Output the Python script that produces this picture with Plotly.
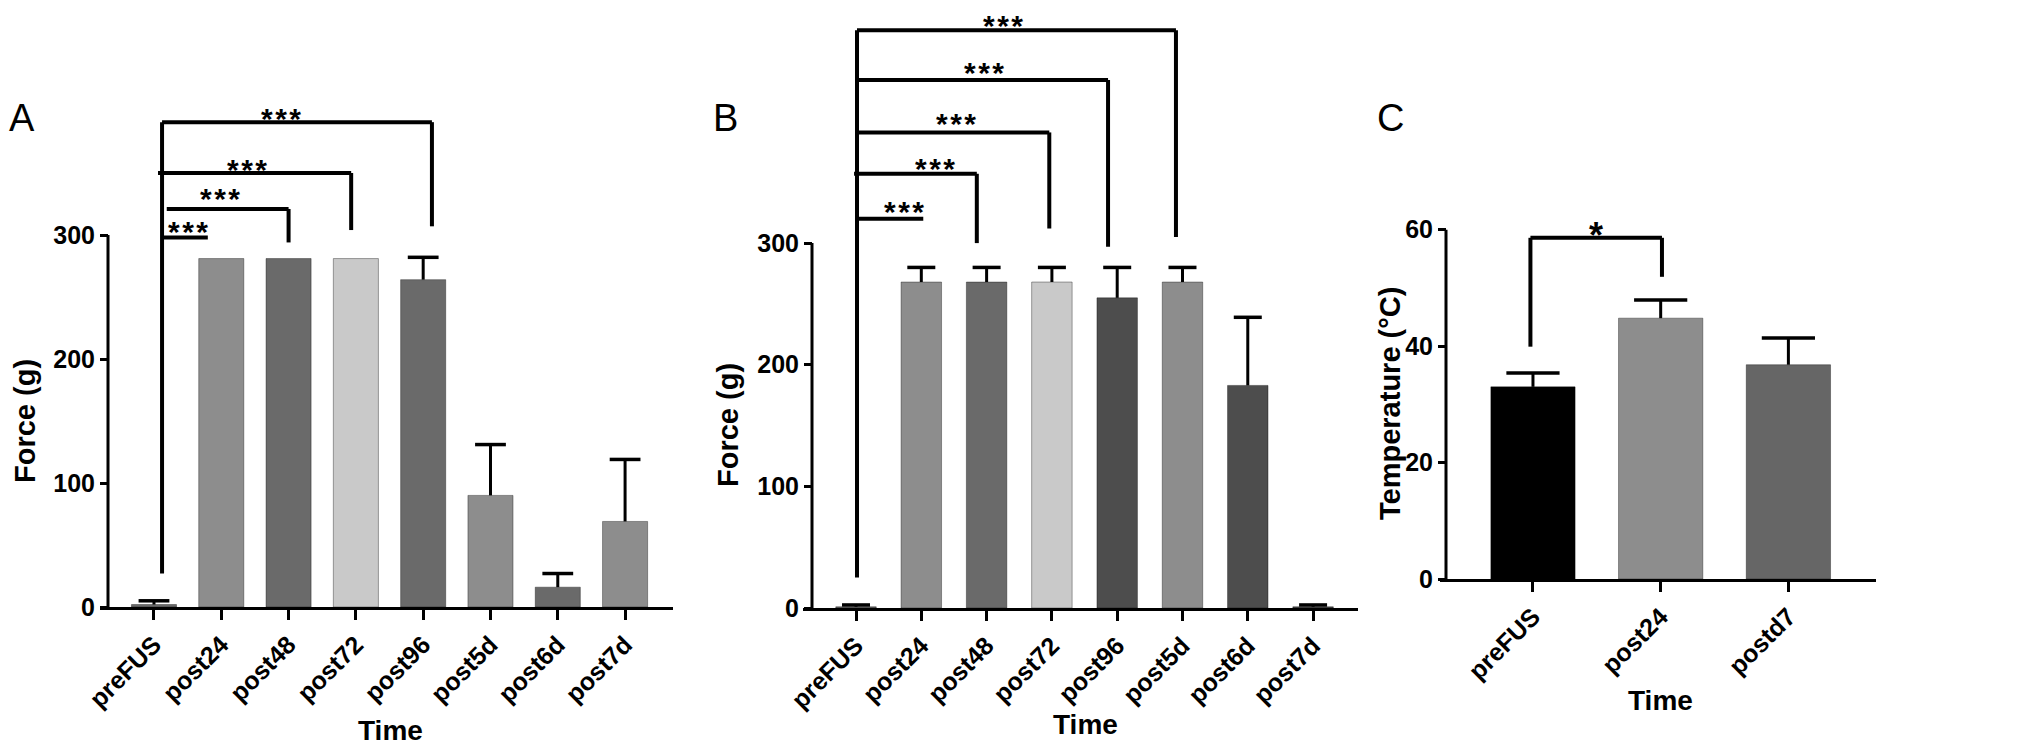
import plotly.graph_objects as go

# the page body keeps its default 8px margin, so the figure is drawn 8px in from the window edge
PAD = 8
FW, FH = 2040 - 2 * PAD, 755 - 2 * PAD

# panel A
a_times = ["preFUS", "post24", "post48", "post72", "post96", "post5d", "post6d", "post7d"]
a_force = [2, 281, 281, 281, 264, 90, 16, 69]
a_err = [3, None, None, None, 18, 41, 11, 50]
a_colors = ["#6a6a6a", "#8d8d8d", "#6a6a6a", "#c9c9c9", "#6a6a6a", "#8d8d8d", "#6a6a6a", "#8d8d8d"]

# panel B
b_times = ["preFUS", "post24", "post48", "post72", "post96", "post5d", "post6d", "post7d"]
b_force = [1, 268, 268, 268, 255, 268, 183, 1]
b_err = [1.5, 12, 12, 12, 25, 12, 56, 1.5]
b_colors = ["#6a6a6a", "#8d8d8d", "#6a6a6a", "#c9c9c9", "#4d4d4d", "#8d8d8d", "#4d4d4d", "#4d4d4d"]

# panel C
c_times = ["preFUS", "post24", "postd7"]
c_temp = [33, 44.8, 36.8]
c_err = [2.4, 3.1, 4.6]
c_colors = ["#000000", "#8d8d8d", "#666666"]

# significance brackets: (x start, x end, height, right drop end, star x, star y)
a_brackets = [
    (0.12, 0.80, 298, None, 0.50, 308),
    (0.19, 2.00, 321, 294, 0.98, 334),
    (0.06, 2.93, 350, 304, 1.38, 358),
    (0.12, 4.13, 391, 307, 1.89, 399),
]
a_stem = (0.12, 27, 391)
b_brackets = [
    (0.015, 1.03, 320, None, 0.74, 331),
    (-0.03, 1.85, 357, 300, 1.21, 366),
    (0.015, 2.96, 391, 312, 1.53, 403),
    (0.015, 3.86, 434, 297, 1.96, 445),
    (0.015, 4.90, 475, 305, 2.25, 484),
]
b_stem = (0.015, 25, 475)
c_brackets = [(-0.02, 1.01, 58.6, 51.9, 0.49, 60.3)]
c_stem = (-0.02, 39.9, 58.6)

STARS3 = "*\u200a*\u200a*"

FONT = "Liberation Sans, Arial, sans-serif"
TICK_FONT = dict(family=FONT, size=25, color="black", weight="bold")


def fx(px):
    return (px - PAD) / FW


def fy(py):
    return 1 - (py - PAD) / FH


# pixel geometry of each panel (window pixels): x-axis span, y-axis x position,
# row of y=0, top row of the plotting area and the y value it maps to
panels = [
    dict(xl=100, xr=673, yax=108, y0=607, ytop=111, vmax=400, axis_top=300,
         xr_range=[-0.802, 7.712], tickvals=[0, 100, 200, 300], cap=11),
    dict(xl=803, xr=1358, yax=812, y0=608, ytop=12, vmax=490, axis_top=300,
         xr_range=[-0.812, 7.688], tickvals=[0, 100, 200, 300], cap=10),
    dict(xl=1440, xr=1876, yax=1446, y0=579, ytop=218, vmax=62, axis_top=60,
         xr_range=[-0.728, 2.686], tickvals=[0, 20, 40, 60], cap=19),
]

fig = go.Figure()

data = [
    (a_times, a_force, a_err, a_colors, 0.67),
    (b_times, b_force, b_err, b_colors, 0.62),
    (c_times, c_temp, c_err, c_colors, 0.66),
]

for k, (cats, vals, errs, cols, bw) in enumerate(data):
    xa = "x" if k == 0 else f"x{k + 1}"
    ya = "y" if k == 0 else f"y{k + 1}"
    fig.add_trace(go.Bar(
        x=cats, y=vals, width=bw, xaxis=xa, yaxis=ya,
        marker=dict(color=cols, line=dict(color="rgba(0,0,0,0.35)", width=1)),
        showlegend=False,
    ))
    # upper-only error bars: stem from the error bar, cap from a line marker
    idx = [i for i, e in enumerate(errs) if e]
    fig.add_trace(go.Scatter(
        x=[cats[i] for i in idx],
        y=[vals[i] + errs[i] for i in idx],
        mode="markers", xaxis=xa, yaxis=ya,
        marker=dict(symbol="line-ew", size=2 * panels[k]["cap"],
                    line=dict(color="black", width=3.5)),
        error_y=dict(type="data", symmetric=False,
                     array=[0] * len(idx), arrayminus=[errs[i] for i in idx],
                     color="black", thickness=3, width=0),
        showlegend=False, hoverinfo="skip",
    ))

shapes = []
annotations = []
for k, (brackets, stem, star, ssize) in enumerate([
    (a_brackets, a_stem, STARS3, 30),
    (b_brackets, b_stem, STARS3, 30),
    (c_brackets, c_stem, "*", 36),
]):
    xa = "x" if k == 0 else f"x{k + 1}"
    ya = "y" if k == 0 else f"y{k + 1}"
    line = dict(color="black", width=4)
    shapes.append(dict(type="line", xref=xa, yref=ya, x0=stem[0], x1=stem[0],
                       y0=stem[1], y1=stem[2], line=line))
    for x0, x1, y, drop, sx, sy in brackets:
        shapes.append(dict(type="line", xref=xa, yref=ya, x0=x0, x1=x1, y0=y, y1=y, line=line))
        if drop is not None:
            shapes.append(dict(type="line", xref=xa, yref=ya, x0=x1, x1=x1, y0=y, y1=drop, line=line))
        annotations.append(dict(xref=xa, yref=ya, x=sx, y=sy, text=star, showarrow=False,
                                xanchor="center", yanchor="middle",
                                yshift=-int(ssize * 0.23),
                                font=dict(family=FONT, size=ssize, color="black", weight="bold")))
    # y axis line only up to the last tick
    p = panels[k]
    shapes.append(dict(type="line", xref="paper", yref=ya, x0=fx(p["yax"]), x1=fx(p["yax"]),
                       y0=0, y1=p["axis_top"], line=dict(color="black", width=3)))

for k, p in enumerate(panels):
    sfx = "" if k == 0 else str(k + 1)
    fig.update_layout(**{
        f"xaxis{sfx}": dict(
            domain=[fx(p["xl"]), fx(p["xr"])], range=p["xr_range"], anchor=f"y{sfx}",
            showline=True, linecolor="black", linewidth=3, automargin=False,
            ticks="outside", ticklen=10, tickwidth=3, tickcolor="black",
            tickangle=-45, tickfont=TICK_FONT, showgrid=False, zeroline=False,
        ),
        f"yaxis{sfx}": dict(
            domain=[fy(p["y0"]), fy(p["ytop"])], range=[0, p["vmax"]],
            anchor="free", position=fx(p["yax"]), automargin=False,
            showline=False, tickvals=p["tickvals"],
            ticks="outside", ticklen=8, tickwidth=3, tickcolor="black",
            tickfont=TICK_FONT, showgrid=False, zeroline=False,
        ),
    })

TITLE_FONT = dict(family=FONT, size=29, color="black", weight="bold")
LETTER_FONT = dict(family=FONT, size=38, color="black")
labels = [
    ("Force (g)", 25, 421, -90, TITLE_FONT),
    ("Force (g)", 728, 425, -90, TITLE_FONT),
    ("Temperature (°C)", 1390, 404, -90, TITLE_FONT),
    ("Time", 390, 730, 0, dict(TITLE_FONT, size=28)),
    ("Time", 1085, 724, 0, dict(TITLE_FONT, size=28)),
    ("Time", 1660, 700, 0, dict(TITLE_FONT, size=28)),
    ("A", 22, 118, 0, LETTER_FONT),
    ("B", 725, 118, 0, LETTER_FONT),
    ("C", 1390, 118, 0, LETTER_FONT),
]
for text, x, y, ang, font in labels:
    annotations.append(dict(xref="paper", yref="paper", x=fx(x), y=fy(y), text=text,
                            xanchor="center", yanchor="middle",
                            textangle=ang, showarrow=False, font=font))

fig.update_layout(
    width=FW, height=FH,
    margin=dict(l=0, r=0, t=0, b=0, autoexpand=False),
    paper_bgcolor="white",
    plot_bgcolor="white",
    barmode="overlay",
    showlegend=False,
    shapes=shapes,
    annotations=annotations,
)

fig.write_html("out.html")
